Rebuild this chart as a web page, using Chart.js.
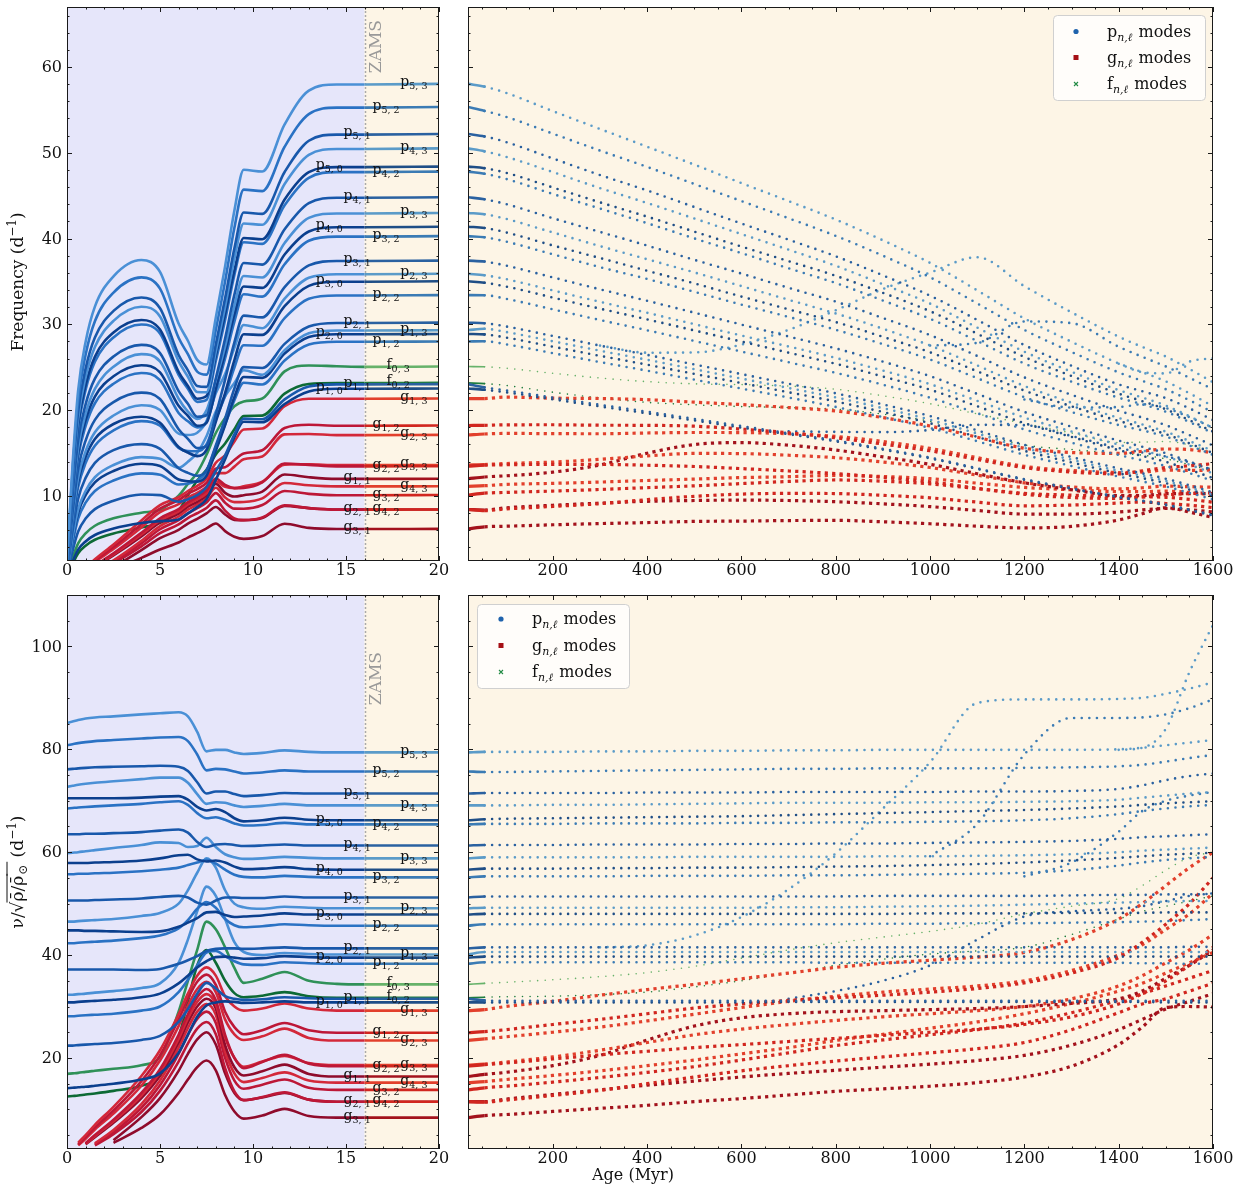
<!DOCTYPE html>
<html>
<head>
<meta charset="utf-8">
<title>Oscillation mode frequencies</title>
<script src="https://cdn.jsdelivr.net/npm/chart.js@4.4.1/dist/chart.umd.min.js"></script>
<style>
  html, body { margin: 0; padding: 0; background: #fff; }
  #fig { position: relative; width: 1245px; height: 1186px; overflow: hidden; }
  #fig canvas { position: absolute; }
</style>
</head>
<body>
<div id="fig">
  <canvas id="pmsFreq" width="452" height="590" style="left:0;top:0"></canvas>
  <canvas id="msFreq" width="805" height="590" style="left:440px;top:0"></canvas>
  <canvas id="pmsScaled" width="452" height="596" style="left:0;top:590px"></canvas>
  <canvas id="msScaled" width="805" height="596" style="left:440px;top:590px"></canvas>
</div>
<script>
const SERIF = '"DejaVu Serif", "Liberation Serif", serif';
const PRE_MS_BG = '#e6e6fa';
const MS_BG = '#fdf5e6';
const ZAMS_AGE = 16;

// pre-main-sequence track: age (Myr) and sqrt(mean density / solar)
const PMS_AGE = [0, 0.3, 0.6, 1, 1.5, 2.5, 4, 5, 6, 6.5, 7, 7.5, 8, 8.5, 9, 9.5, 10.5, 11.7, 13, 14.5, 16, 20];
const PMS_SQRT_RHO = [0.028, 0.16, 0.26, 0.325, 0.372, 0.412, 0.432, 0.415, 0.345, 0.325, 0.31, 0.318, 0.385, 0.46, 0.545, 0.607, 0.603, 0.668, 0.72, 0.73, 0.73, 0.731];

// main-sequence track
const MS_AGE = [20, 55, 100, 200, 300, 400, 500, 600, 700, 800, 900, 1000, 1100, 1200, 1300, 1400, 1450, 1500, 1550, 1600];
const MS_SQRT_RHO = [0.731, 0.726, 0.717, 0.690, 0.663, 0.637, 0.610, 0.583, 0.556, 0.529, 0.498, 0.465, 0.425, 0.384, 0.350, 0.318, 0.304, 0.289, 0.270, 0.250];

// scaled frequencies nu / sqrt(rho/rho_sun), d^-1, pre-MS
const p53Pms = [85.1, 85.4, 85.7, 86.0, 86.2, 86.4, 86.8, 87.0, 87.2, 86.4, 83.4, 79.6, 79.9, 79.9, 79.4, 79.1, 79.3, 79.8, 79.5, 79.4, 79.4, 79.4];
const p52Pms = [80.8, 81.0, 81.2, 81.4, 81.6, 81.8, 82.1, 82.3, 82.4, 81.6, 79.0, 75.9, 76.2, 76.1, 75.7, 75.3, 75.5, 75.9, 75.7, 75.7, 75.7, 75.7];
const p51Pms = [76.1, 76.2, 76.3, 76.4, 76.5, 76.6, 76.7, 76.8, 76.6, 75.8, 73.6, 71.4, 71.8, 71.8, 71.3, 70.9, 71.1, 71.5, 71.4, 71.4, 71.4, 71.4];
const p43Pms = [72.7, 72.9, 73.1, 73.3, 73.5, 73.8, 74.2, 74.5, 74.5, 73.5, 71.3, 69.4, 69.7, 69.6, 69.1, 68.8, 69.0, 69.4, 69.1, 69.1, 69.1, 69.1];
const p50Pms = [70.5, 70.5, 70.5, 70.5, 70.5, 70.5, 70.6, 70.8, 70.9, 70.2, 68.8, 68.1, 68.4, 67.8, 66.6, 66.0, 66.2, 66.7, 66.3, 66.2, 66.2, 66.2];
const p42Pms = [68.5, 68.6, 68.7, 68.8, 68.9, 69.1, 69.4, 69.7, 69.9, 69.2, 67.6, 66.6, 66.8, 66.3, 65.6, 65.2, 65.3, 65.7, 65.4, 65.4, 65.4, 65.4];
const p41Pms = [63.5, 63.5, 63.5, 63.6, 63.6, 63.7, 63.9, 64.2, 64.4, 63.8, 62.0, 61.0, 61.5, 61.6, 61.4, 61.2, 61.3, 61.5, 61.3, 61.3, 61.3, 61.3];
const p33Pms = [59.8, 59.9, 60.0, 60.2, 60.4, 60.8, 61.4, 61.9, 61.8, 61.0, 61.2, 62.8, 61.0, 59.6, 59.0, 58.7, 58.8, 59.1, 58.9, 58.8, 58.8, 58.8];
const p40Pms = [57.9, 57.9, 57.9, 57.9, 58.0, 58.1, 58.4, 58.8, 59.4, 59.5, 58.6, 58.2, 58.4, 58.0, 57.2, 56.7, 56.8, 57.1, 56.7, 56.6, 56.6, 56.6];
const p32Pms = [55.7, 55.7, 55.8, 55.8, 55.9, 56.0, 56.3, 56.6, 57.0, 57.5, 58.0, 58.5, 57.8, 56.6, 55.6, 55.2, 55.1, 55.4, 55.2, 55.1, 55.1, 55.1];
const p31Pms = [50.6, 50.6, 50.6, 50.6, 50.7, 50.8, 51.0, 51.3, 51.5, 51.2, 50.2, 49.8, 50.6, 51.2, 51.2, 51.1, 51.1, 51.4, 51.2, 51.2, 51.2, 51.2];
const p23Pms = [46.5, 46.5, 46.6, 46.7, 46.8, 47.0, 47.6, 48.2, 50.0, 52.6, 56.0, 58.8, 57.0, 52.6, 50.0, 49.3, 49.0, 49.4, 49.2, 49.1, 49.1, 49.1];
const p30Pms = [44.8, 44.8, 44.8, 44.7, 44.7, 44.6, 44.5, 44.6, 45.5, 46.3, 47.2, 48.3, 48.4, 47.8, 47.4, 47.5, 47.7, 48.1, 47.9, 47.9, 47.9, 47.9];
const p22Pms = [42.3, 42.3, 42.4, 42.5, 42.6, 42.8, 43.3, 43.8, 45.2, 46.8, 49.0, 50.3, 49.2, 47.0, 45.8, 45.4, 45.6, 46.0, 45.8, 45.7, 45.7, 45.7];
const p21Pms = [37.2, 37.2, 37.2, 37.2, 37.2, 37.2, 37.1, 37.3, 38.3, 39.0, 39.8, 40.8, 41.2, 41.3, 41.3, 41.2, 41.3, 41.5, 41.3, 41.3, 41.3, 41.3];
const p13Pms = [32.3, 32.3, 32.4, 32.5, 32.7, 33.0, 33.6, 34.5, 38.5, 43.0, 48.5, 53.3, 51.5, 47.0, 42.5, 40.6, 40.0, 40.4, 40.2, 40.1, 40.1, 40.1];
const p20Pms = [30.8, 30.8, 30.9, 31.0, 31.1, 31.3, 31.8, 32.5, 34.5, 36.0, 37.6, 38.8, 39.6, 39.7, 39.5, 39.3, 39.4, 39.8, 39.6, 39.5, 39.5, 39.5];
const p12Pms = [28.1, 28.1, 28.2, 28.3, 28.4, 28.6, 29.2, 30.0, 32.8, 35.2, 38.0, 40.5, 40.8, 39.8, 38.8, 38.2, 38.1, 38.6, 38.4, 38.3, 38.3, 38.3];
const p11Pms = [22.4, 22.4, 22.5, 22.6, 22.7, 22.9, 23.5, 24.3, 27.0, 29.5, 32.5, 34.6, 33.5, 32.0, 31.5, 31.3, 31.4, 31.8, 31.6, 31.5, 31.5, 31.5];
const p10Pms = [14.1, 14.2, 14.3, 14.4, 14.6, 15.0, 15.8, 17.0, 21.0, 24.5, 28.0, 30.2, 30.8, 31.0, 30.9, 30.7, 30.8, 31.0, 30.8, 30.8, 30.8, 30.8];
const g13Pms = [null, null, 3.5, 5.0, 7.0, 10.5, 16.5, 21.5, 28.5, 32.5, 36.0, 37.6, 36.0, 32.0, 30.0, 29.2, 29.6, 30.6, 29.6, 29.2, 29.2, 29.2];
const g12Pms = [null, null, 3.2, 4.6, 6.5, 9.8, 15.5, 20.5, 27.5, 31.5, 34.8, 36.2, 34.2, 29.0, 26.0, 24.6, 25.4, 26.8, 25.4, 24.9, 24.9, 24.9];
const g23Pms = [null, null, 3.0, 4.3, 6.1, 9.2, 14.6, 19.5, 26.2, 30.2, 33.4, 34.8, 32.8, 27.5, 24.6, 23.5, 24.2, 25.7, 23.9, 23.4, 23.4, 23.4];
const g22Pms = [null, null, null, 3.4, 5.0, 8.0, 13.2, 17.8, 24.5, 28.5, 31.8, 33.4, 31.2, 24.5, 20.0, 18.0, 19.2, 20.6, 18.9, 18.4, 18.4, 18.4];
const g33Pms = [null, null, null, 3.3, 4.8, 7.7, 12.7, 17.2, 23.7, 27.7, 30.9, 32.4, 30.4, 24.0, 20.0, 18.3, 19.3, 20.4, 19.0, 18.6, 18.6, 18.6];
const g11Pms = [null, null, null, 3.2, 4.6, 7.4, 12.2, 16.6, 23.0, 26.9, 30.0, 31.5, 29.6, 22.5, 18.2, 16.6, 17.4, 18.7, 16.9, 16.4, 16.4, 16.4];
const g43Pms = [null, null, null, null, 3.4, 6.0, 11.0, 15.6, 22.0, 25.8, 29.0, 30.5, 28.4, 21.3, 17.0, 15.3, 16.1, 17.2, 15.6, 15.2, 15.2, 15.2];
const g32Pms = [null, null, null, null, 3.2, 5.6, 10.3, 14.7, 20.8, 24.5, 27.6, 29.0, 26.8, 20.0, 15.6, 14.0, 14.8, 15.8, 14.2, 13.8, 13.8, 13.8];
const g42Pms = [null, null, null, null, 3.0, 5.2, 9.5, 13.6, 19.3, 22.8, 25.7, 27.0, 24.6, 18.0, 13.5, 11.8, 12.4, 13.3, 11.9, 11.5, 11.5, 11.5];
const g21Pms = [null, null, null, null, null, 4.0, 8.5, 12.2, 17.5, 20.8, 23.6, 25.0, 22.6, 17.0, 13.2, 11.8, 12.3, 13.2, 11.9, 11.5, 11.5, 11.5];
const g31Pms = [null, null, null, null, null, 3.5, 6.4, 9.0, 13.2, 15.8, 18.2, 19.5, 17.6, 12.8, 9.6, 8.2, 8.8, 10.1, 8.7, 8.4, 8.4, 8.4];
const f03Pms = [16.9, 17.0, 17.1, 17.3, 17.5, 17.9, 18.6, 20.2, 29.0, 35.0, 41.0, 46.5, 45.0, 41.5, 37.5, 34.6, 35.4, 36.7, 35.0, 34.4, 34.3, 34.3];
const f02Pms = [12.5, 12.6, 12.7, 12.9, 13.1, 13.6, 14.6, 16.5, 24.0, 31.0, 38.0, 41.0, 38.5, 35.0, 32.6, 31.8, 32.1, 32.8, 32.0, 31.7, 31.7, 31.7];

// scaled frequencies on the main sequence
const p53Ms = [79.4, 79.5, 79.5, 79.5, 79.6, 79.6, 79.7, 79.7, 79.8, 79.8, 79.9, 79.9, 79.9, 79.9, 79.9, 80.0, 80.3, 80.8, 81.3, 81.8];
const p52Ms = [75.7, 75.6, 75.6, 75.7, 75.8, 75.9, 76.0, 76.1, 76.2, 76.2, 76.3, 76.3, 76.3, 76.4, 76.5, 76.7, 77.0, 77.6, 78.3, 78.9];
const p51Ms = [71.4, 71.5, 71.5, 71.5, 71.5, 71.6, 71.6, 71.6, 71.7, 71.7, 71.7, 71.7, 71.8, 71.8, 71.9, 72.3, 73.0, 74.0, 74.8, 75.3];
const p43Ms = [69.1, 69.1, 69.1, 69.2, 69.2, 69.3, 69.4, 69.5, 69.6, 69.6, 69.6, 69.7, 69.7, 69.8, 69.9, 70.2, 70.6, 71.0, 71.4, 71.7];
const p50Ms = [66.2, 66.4, 66.5, 66.6, 66.7, 66.8, 66.9, 67.0, 67.2, 67.4, 67.6, 67.8, 68.0, 68.2, 68.5, 68.9, 69.2, 69.5, 69.7, 69.9];
const p42Ms = [65.4, 65.5, 65.5, 65.5, 65.6, 65.6, 65.6, 65.7, 65.7, 65.8, 65.8, 65.9, 66.0, 66.2, 66.6, 67.4, 68.0, 68.5, 68.9, 69.2];
const p41Ms = [61.3, 61.4, 61.4, 61.4, 61.5, 61.5, 61.5, 61.6, 61.6, 61.7, 61.7, 61.8, 61.9, 62.0, 62.2, 62.6, 62.9, 63.1, 63.3, 63.5];
const p33Ms = [58.8, 59.0, 59.0, 59.0, 59.0, 59.0, 59.1, 59.1, 59.1, 59.1, 59.2, 59.2, 59.3, 59.4, 59.6, 60.0, 60.3, 60.5, 60.7, 60.9];
const p40Ms = [56.6, 56.8, 56.8, 56.8, 56.9, 56.9, 57.0, 57.0, 57.1, 57.2, 57.3, 57.5, 57.7, 58.0, 58.4, 58.9, 59.2, 59.5, 59.7, 59.9];
const p32Ms = [55.1, 55.3, 55.3, 55.3, 55.3, 55.4, 55.4, 55.4, 55.5, 55.5, 55.6, 55.7, 55.8, 56.0, 56.5, 57.4, 58.0, 58.5, 58.8, 59.1];
const p31Ms = [51.2, 51.4, 51.4, 51.4, 51.4, 51.4, 51.4, 51.4, 51.4, 51.4, 51.5, 51.5, 51.5, 51.5, 51.6, 51.7, 51.7, 51.8, 51.8, 51.9];
const p23Ms = [49.1, 49.2, 49.2, 49.2, 49.2, 49.2, 49.2, 49.2, 49.3, 49.3, 49.4, 49.5, 49.6, 49.8, 50.0, 50.2, 50.3, 50.4, 50.5, 50.5];
const p30Ms = [47.9, 48.0, 48.0, 48.0, 48.0, 48.0, 48.0, 48.0, 48.0, 48.0, 48.0, 48.1, 48.1, 48.1, 48.2, 48.2, 48.2, 48.3, 48.3, 48.3];
const p22Ms = [45.7, 46.0, 46.0, 46.0, 46.0, 46.0, 46.0, 46.0, 46.0, 46.0, 46.1, 46.1, 46.2, 46.2, 46.3, 46.4, 46.5, 46.6, 46.8, 47.0];
const p21Ms = [41.3, 41.5, 41.5, 41.5, 41.5, 41.5, 41.5, 41.5, 41.5, 41.5, 41.5, 41.5, 41.5, 41.5, 41.5, 41.5, 41.5, 41.5, 41.6, 41.6];
const p13Ms = [40.1, 40.6, 40.6, 40.6, 40.6, 40.6, 40.6, 40.6, 40.6, 40.6, 40.6, 40.6, 40.6, 40.6, 40.6, 40.6, 40.6, 40.6, 40.6, 40.6];
const p20Ms = [39.5, 39.7, 39.7, 39.7, 39.7, 39.7, 39.7, 39.7, 39.7, 39.7, 39.7, 39.7, 39.7, 39.7, 39.7, 39.7, 39.7, 39.7, 39.7, 39.7];
const p12Ms = [38.3, 38.6, 38.6, 38.6, 38.6, 38.6, 38.6, 38.6, 38.6, 38.5, 38.5, 38.5, 38.5, 38.5, 38.5, 38.5, 38.4, 38.4, 38.3, 38.3];
const p11Ms = [31.5, 31.2, 31.1, 31.1, 31.1, 31.1, 31.1, 31.1, 31.1, 31.1, 31.1, 31.1, 31.1, 31.1, 31.1, 31.1, 31.1, 31.1, 31.1, 31.1];
const p10Ms = [30.8, 30.8, 30.8, 30.8, 30.8, 30.8, 30.8, 30.8, 30.9, 30.9, 30.9, 30.9, 30.9, 30.9, 30.9, 30.9, 30.9, 30.8, 30.8, 30.8];
const g13Ms = [29.2, 29.4, 30.0, 31.0, 32.2, 33.3, 34.3, 35.4, 36.5, 37.6, 38.4, 39.0, 39.6, 40.5, 43.0, 47.0, 50.0, 53.5, 57.0, 60.0];
const g12Ms = [24.9, 25.1, 25.5, 26.5, 27.5, 28.6, 29.7, 30.5, 31.2, 31.7, 32.2, 32.8, 33.5, 34.6, 36.5, 39.5, 42.5, 46.0, 50.0, 55.0];
const g23Ms = [23.4, 23.7, 24.1, 25.0, 26.0, 27.2, 28.5, 29.8, 31.0, 32.0, 32.8, 33.4, 34.0, 35.0, 37.0, 40.0, 42.0, 45.0, 48.0, 52.0];
const g22Ms = [18.4, 18.7, 19.0, 19.8, 20.6, 21.3, 22.0, 22.6, 23.2, 23.8, 24.4, 25.0, 25.6, 26.5, 28.0, 30.5, 32.5, 35.0, 38.0, 41.5];
const g33Ms = [18.6, 18.8, 19.2, 20.2, 21.5, 23.0, 24.5, 25.6, 26.5, 27.3, 28.0, 28.6, 29.2, 30.0, 31.5, 34.0, 36.0, 38.5, 41.0, 44.0];
const g11Ms = [16.4, 16.8, 17.2, 18.5, 20.5, 23.5, 26.2, 27.8, 28.6, 29.0, 29.2, 29.4, 29.6, 30.0, 30.6, 31.5, 33.0, 35.5, 38.0, 41.0];
const g43Ms = [15.2, 15.4, 15.8, 16.6, 17.5, 18.5, 19.6, 20.8, 22.0, 23.4, 24.6, 25.8, 27.0, 28.6, 30.6, 33.0, 34.5, 36.5, 38.5, 40.5];
const g32Ms = [13.8, 14.2, 14.5, 15.3, 16.2, 17.2, 18.3, 19.6, 21.0, 22.4, 23.5, 24.5, 25.5, 26.8, 28.8, 31.2, 32.5, 34.0, 35.5, 37.0];
const g42Ms = [11.5, 11.4, 11.8, 12.7, 13.7, 15.0, 16.3, 17.5, 18.5, 19.4, 20.2, 21.0, 21.8, 23.0, 25.5, 28.8, 30.5, 31.5, 33.0, 34.5];
const g21Ms = [11.5, 11.5, 12.0, 12.9, 13.8, 14.7, 15.5, 16.3, 17.0, 17.6, 18.2, 18.8, 19.5, 20.5, 22.5, 25.5, 27.5, 29.5, 31.0, 32.5];
const g31Ms = [8.4, 8.8, 9.0, 9.6, 10.2, 10.8, 11.5, 12.1, 12.8, 13.5, 14.0, 14.5, 15.2, 16.3, 18.4, 22.6, 26.0, 29.8, 30.0, 29.9];
const f03Ms = [34.3, 34.5, 34.7, 35.2, 35.8, 36.6, 37.8, 39.4, 41.0, 42.4, 43.5, 44.6, 46.0, 48.0, 49.5, 51.0, 53.5, 56.5, 59.0, 60.0];
const f02Ms = [31.7, 31.8, 31.9, 32.0, 32.3, 32.8, 33.8, 35.0, 36.5, 38.0, 39.2, 40.2, 40.8, 41.5, 44.0, 47.0, 48.5, 49.5, 50.5, 51.5];

// mixed-character branches that cut across the p-mode ladder
const branchA = [null, null, null, null, 41.5, 41.9, 43.8, 47.4, 52.8, 59.8, 68.5, 77.5, 89.0, 89.7, 89.7, 89.8, 90.0, 90.8, 91.8, 93.0];
const branchB = [null, null, null, null, null, null, null, null, null, null, null, 59.2, 65.5, 79.0, 86.1, 86.1, 86.2, 86.8, 88.0, 89.7];
const branchC = [null, null, null, null, null, null, null, null, null, null, null, null, null, null, null, 79.9, 80.3, 84.0, 95.0, 104.2];
const branchD = [null, null, null, null, null, null, null, null, 31.5, 33.0, 35.0, 38.0, 43.0, 47.5, 48.5, 49.0, 49.5, 50.5, 51.5, 52.0];
const branchE = [null, null, null, null, null, null, null, null, null, null, null, null, null, 55.3, 58.0, 64.0, 68.0, 70.0, 71.0, 71.7];

const MODES = [
  ['p', 5, 3, p53Pms, p53Ms], ['p', 5, 2, p52Pms, p52Ms], ['p', 5, 1, p51Pms, p51Ms], ['p', 4, 3, p43Pms, p43Ms],
  ['p', 5, 0, p50Pms, p50Ms], ['p', 4, 2, p42Pms, p42Ms], ['p', 4, 1, p41Pms, p41Ms], ['p', 3, 3, p33Pms, p33Ms],
  ['p', 4, 0, p40Pms, p40Ms], ['p', 3, 2, p32Pms, p32Ms], ['p', 3, 1, p31Pms, p31Ms], ['p', 2, 3, p23Pms, p23Ms],
  ['p', 3, 0, p30Pms, p30Ms], ['p', 2, 2, p22Pms, p22Ms], ['p', 2, 1, p21Pms, p21Ms], ['p', 1, 3, p13Pms, p13Ms],
  ['p', 2, 0, p20Pms, p20Ms], ['p', 1, 2, p12Pms, p12Ms], ['p', 1, 1, p11Pms, p11Ms], ['p', 1, 0, p10Pms, p10Ms],
  ['g', 1, 3, g13Pms, g13Ms], ['g', 1, 2, g12Pms, g12Ms], ['g', 2, 3, g23Pms, g23Ms], ['g', 2, 2, g22Pms, g22Ms],
  ['g', 3, 3, g33Pms, g33Ms], ['g', 1, 1, g11Pms, g11Ms], ['g', 4, 3, g43Pms, g43Ms], ['g', 3, 2, g32Pms, g32Ms],
  ['g', 4, 2, g42Pms, g42Ms], ['g', 2, 1, g21Pms, g21Ms], ['g', 3, 1, g31Pms, g31Ms],
  ['f', 0, 3, f03Pms, f03Ms], ['f', 0, 2, f02Pms, f02Ms]
];
const BRANCHES = [[branchA, 3], [branchB, 2], [branchC, 3], [branchD, 1], [branchE, 2]];

// label x-position (Myr) per degree, in the left panels
const LABEL_AGE = [14.1, 15.6, 17.15, 18.65];
const F_LABEL_AGE = 17.8;

const LINE_COLORS = {
  p: ['#0b3f8e', '#1858ab', '#2a72c4', '#4a90d6'],
  g: [null, '#8f0b2c', '#bd1737', '#d3283a'],
  f: [null, null, '#0d6a35', '#2f9158']
};
const DOT_COLORS = {
  p: ['#1f4e86', '#2a61a0', '#3b7bb4', '#5b9bc8'],
  g: [null, '#a3121c', '#d1261f', '#e2402c'],
  f: [null, null, '#1f7d3e', '#67b26a']
};
const MARK = {
  p: { borderWidth: 2.6, borderDash: [0, 7.6], borderCapStyle: 'round' },
  g: { borderWidth: 3.2, borderDash: [3.2, 4.2], borderCapStyle: 'butt' },
  f: { borderWidth: 1.6, borderDash: [0, 7.6], borderCapStyle: 'round' }
};

function series(ages, vals, factor) {
  return ages.map((a, i) => ({ x: a, y: vals[i] == null ? null : (factor ? vals[i] * factor[i] : vals[i]) }));
}

function pmsDatasets(top) {
  return MODES.map(([kind, n, l, pms]) => ({
    data: series(PMS_AGE, pms, top ? PMS_SQRT_RHO : null),
    borderColor: LINE_COLORS[kind][l],
    borderWidth: 2.6,
    pointRadius: 0,
    cubicInterpolationMode: 'monotone',
    spanGaps: false,
    segment: { borderColor: c => (c.p0.parsed.x >= ZAMS_AGE - 1e-6 ? DOT_COLORS[kind][l] : undefined) }
  }));
}

function msDataset(kind, l, vals, top) {
  return Object.assign({
    data: series(MS_AGE, vals, top ? MS_SQRT_RHO : null),
    borderColor: DOT_COLORS[kind][l],
    pointRadius: 0,
    cubicInterpolationMode: 'monotone',
    spanGaps: false,
    segment: { borderDash: c => (c.p0.parsed.x < 50 ? [] : undefined) }
  }, MARK[kind]);
}

function msDatasets(top) {
  const sets = MODES.map(([kind, n, l, pms, ms]) => msDataset(kind, l, ms, top));
  BRANCHES.forEach(([vals, l]) => sets.push(msDataset('p', l, vals, top)));
  return sets;
}

// ---- drawing helpers ----
function fillBackground(chart, split) {
  const { ctx, chartArea: a, scales: { x } } = chart;
  ctx.save();
  if (split) {
    const zx = x.getPixelForValue(ZAMS_AGE);
    ctx.fillStyle = PRE_MS_BG;
    ctx.fillRect(a.left, a.top, zx - a.left, a.height);
    ctx.fillStyle = MS_BG;
    ctx.fillRect(zx, a.top, a.right - zx, a.height);
  } else {
    ctx.fillStyle = MS_BG;
    ctx.fillRect(a.left, a.top, a.width, a.height);
  }
  ctx.restore();
}

function drawZams(chart, textTop) {
  const { ctx, chartArea: a, scales: { x } } = chart;
  const zx = Math.round(x.getPixelForValue(ZAMS_AGE)) + 0.5;
  ctx.save();
  ctx.strokeStyle = '#aaaaaa';
  ctx.lineWidth = 1.5;
  ctx.setLineDash([2, 2]);
  ctx.beginPath();
  ctx.moveTo(zx, a.top);
  ctx.lineTo(zx, a.bottom);
  ctx.stroke();
  ctx.setLineDash([]);
  ctx.translate(zx + 15, textTop);
  ctx.rotate(-Math.PI / 2);
  ctx.fillStyle = '#999999';
  ctx.font = '17px ' + SERIF;
  ctx.textAlign = 'right';
  ctx.textBaseline = 'alphabetic';
  ctx.fillText('ZAMS', 0, 0);
  ctx.restore();
}

function steps(lo, hi, step) {
  const out = [];
  for (let k = Math.ceil(lo / step - 1e-9); k * step <= hi + 1e-9; k++) out.push(k * step);
  return out;
}
const isMajor = (v, m) => Math.abs(v / m - Math.round(v / m)) < 1e-6;

function drawAxes(chart, t) {
  const { ctx, chartArea: a, scales: { x, y } } = chart;
  ctx.save();
  ctx.strokeStyle = '#1a1a1a';
  ctx.lineWidth = 1;
  ctx.beginPath();
  steps(x.min, x.max, t.xMinor).forEach(v => {
    const px = Math.round(x.getPixelForValue(v)) + 0.5;
    const len = isMajor(v, t.xMajor) ? 5 : 2.5;
    ctx.moveTo(px, a.bottom); ctx.lineTo(px, a.bottom - len);
    ctx.moveTo(px, a.top); ctx.lineTo(px, a.top + len);
  });
  steps(y.min, y.max, t.yMinor).forEach(v => {
    const py = Math.round(y.getPixelForValue(v)) + 0.5;
    const len = isMajor(v, t.yMajor) ? 5 : 2.5;
    ctx.moveTo(a.left, py); ctx.lineTo(a.left + len, py);
    ctx.moveTo(a.right, py); ctx.lineTo(a.right - len, py);
  });
  ctx.stroke();
  ctx.strokeRect(Math.round(a.left) + 0.5, Math.round(a.top) + 0.5, Math.round(a.width) - 1, Math.round(a.height) - 1);

  ctx.fillStyle = '#111';
  ctx.font = '16px ' + SERIF;
  ctx.textAlign = 'center';
  ctx.textBaseline = 'top';
  steps(x.min, x.max, t.xMajor).forEach(v => {
    ctx.fillText(String(v), x.getPixelForValue(v), a.bottom + 2);
  });
  if (t.yLabels) {
    ctx.textAlign = 'right';
    ctx.textBaseline = 'middle';
    steps(y.min, y.max, t.yMajor).forEach(v => {
      ctx.fillText(String(v), a.left - 5, y.getPixelForValue(v) + 1);
    });
  }
  ctx.restore();
}

function drawModeLabels(chart, top) {
  const { ctx, scales: { x, y } } = chart;
  const last = PMS_AGE.length - 1;
  ctx.save();
  ctx.fillStyle = '#111';
  ctx.textBaseline = 'alphabetic';
  ctx.textAlign = 'left';
  MODES.forEach(([kind, n, l, pms]) => {
    const v = pms[last] * (top ? PMS_SQRT_RHO[last] : 1);
    const age = kind === 'f' ? F_LABEL_AGE : LABEL_AGE[l];
    const px = x.getPixelForValue(age);
    const py = y.getPixelForValue(v);
    const sub = n + ', ' + l;
    ctx.font = '14px ' + SERIF;
    const w1 = ctx.measureText(kind).width;
    ctx.font = '9.5px ' + SERIF;
    const w2 = ctx.measureText(sub).width;
    const sx = px - (w1 + w2) / 2;
    ctx.font = '14px ' + SERIF;
    ctx.fillText(kind, sx, py + 2.5);
    ctx.font = '9.5px ' + SERIF;
    ctx.fillText(sub, sx + w1, py + 5.5);
  });
  ctx.restore();
}

function drawLegend(chart, lg) {
  const { ctx } = chart;
  ctx.save();
  ctx.beginPath();
  ctx.roundRect(lg.x0 + 0.5, lg.y0 + 0.5, lg.x1 - lg.x0, lg.y1 - lg.y0, 4);
  ctx.fillStyle = 'rgba(255,255,255,0.8)';
  ctx.fill();
  ctx.strokeStyle = '#d0d0d0';
  ctx.lineWidth = 1;
  ctx.stroke();
  const rows = [['p', '#1f63ad'], ['g', '#a50f15'], ['f', '#238b45']];
  rows.forEach(([kind, color], i) => {
    const cy = lg.rows[i];
    ctx.fillStyle = color;
    ctx.strokeStyle = color;
    if (kind === 'p') {
      ctx.beginPath(); ctx.arc(lg.mx, cy, 2.6, 0, Math.PI * 2); ctx.fill();
    } else if (kind === 'g') {
      ctx.fillRect(lg.mx - 2.5, cy - 2.5, 5, 5);
    } else {
      ctx.lineWidth = 1.1;
      ctx.beginPath();
      ctx.moveTo(lg.mx - 2, cy - 2); ctx.lineTo(lg.mx + 2, cy + 2);
      ctx.moveTo(lg.mx - 2, cy + 2); ctx.lineTo(lg.mx + 2, cy - 2);
      ctx.stroke();
    }
    ctx.fillStyle = '#111';
    ctx.textAlign = 'left';
    ctx.textBaseline = 'alphabetic';
    let tx = lg.tx;
    ctx.font = '16px ' + SERIF;
    ctx.fillText(kind, tx, cy + 5);
    tx += ctx.measureText(kind).width;
    ctx.font = 'italic 11px ' + SERIF;
    ctx.fillText('n,\u2113', tx, cy + 9);
    tx += ctx.measureText('n,\u2113').width + 1;
    ctx.font = '16px ' + SERIF;
    ctx.fillText(' modes', tx, cy + 5);
  });
  ctx.restore();
}

// draws a list of text runs centred on (cx, cy), rotated by -90 deg when vertical
function drawRuns(ctx, runs, cx, cy, vertical) {
  ctx.save();
  ctx.translate(cx, cy);
  if (vertical) ctx.rotate(-Math.PI / 2);
  ctx.fillStyle = '#111';
  ctx.textBaseline = 'alphabetic';
  ctx.textAlign = 'left';
  let total = 0;
  runs.forEach(r => { ctx.font = r.font; r.w = ctx.measureText(r.t).width + (r.gap || 0); total += r.w; });
  let x0 = -total / 2;
  runs.forEach(r => {
    ctx.font = r.font;
    ctx.fillText(r.t, x0, r.dy || 0);
    if (r.bar) {
      ctx.strokeStyle = '#111';
      ctx.lineWidth = 1;
      ctx.beginPath();
      ctx.moveTo(x0 - 1, r.bar);
      ctx.lineTo(x0 + r.w + 1, r.bar);
      ctx.stroke();
    }
    x0 += r.w;
  });
  ctx.restore();
}

const F17 = '17px ' + SERIF;
const F12 = '12px ' + SERIF;

function makeDecor(cfg) {
  return {
    id: 'decor',
    beforeDatasetsDraw(chart) {
      fillBackground(chart, cfg.split);
      if (cfg.split) drawZams(chart, cfg.zamsTop);
    },
    afterDatasetsDraw(chart) {
      drawAxes(chart, cfg.ticks);
      if (cfg.split) drawModeLabels(chart, cfg.top);
      if (cfg.legend) drawLegend(chart, cfg.legend);
      if (cfg.title) cfg.title(chart.ctx);
    }
  };
}

function makeChart(id, datasets, xr, yr, pad, decor) {
  return new Chart(document.getElementById(id), {
    type: 'line',
    data: { datasets },
    options: {
      responsive: false,
      animation: false,
      events: [],
      layout: { padding: pad },
      scales: {
        x: { type: 'linear', min: xr[0], max: xr[1], display: false },
        y: { type: 'linear', min: yr[0], max: yr[1], display: false }
      },
      plugins: { legend: { display: false }, tooltip: { enabled: false } }
    },
    plugins: [decor]
  });
}

const FREQ_RANGE = [2.4, 67];
const SCALED_RANGE = [2.3, 110];
const PMS_RANGE = [0, 20];
const MS_RANGE = [20, 1600];

makeChart('pmsFreq', pmsDatasets(true), PMS_RANGE, FREQ_RANGE,
  { left: 67, top: 7, right: 13, bottom: 29 },
  makeDecor({
    split: true, top: true, zamsTop: 20,
    ticks: { xMajor: 5, xMinor: 1, yMajor: 10, yMinor: 2, yLabels: true },
    title: ctx => drawRuns(ctx, [
      { t: 'Frequency (d', font: F17 },
      { t: '\u22121', font: F12, dy: -7 },
      { t: ')', font: F17 }
    ], 23, 282, true)
  }));

makeChart('msFreq', msDatasets(true), MS_RANGE, FREQ_RANGE,
  { left: 28, top: 7, right: 32, bottom: 29 },
  makeDecor({
    split: false,
    ticks: { xMajor: 200, xMinor: 50, yMajor: 10, yMinor: 2, yLabels: false },
    legend: { x0: 613, y0: 15, x1: 765, y1: 100, mx: 636, tx: 667, rows: [31.5, 57.5, 84] }
  }));

makeChart('pmsScaled', pmsDatasets(false), PMS_RANGE, SCALED_RANGE,
  { left: 67, top: 5, right: 13, bottom: 37 },
  makeDecor({
    split: true, top: false, zamsTop: 62,
    ticks: { xMajor: 5, xMinor: 1, yMajor: 20, yMinor: 5, yLabels: true },
    title: ctx => drawRuns(ctx, [
      { t: '\u03bd/\u221a', font: F17 },
      { t: '\u03c1\u0304/\u03c1\u0304', font: F17, bar: -16, gap: 1 },
      { t: '\u2299', font: F12, dy: 4, bar: -16, gap: 2 },
      { t: ' (d', font: F17 },
      { t: '\u22121', font: F12, dy: -7 },
      { t: ')', font: F17 }
    ], 23, 282, true)
  }));

makeChart('msScaled', msDatasets(false), MS_RANGE, SCALED_RANGE,
  { left: 28, top: 5, right: 32, bottom: 37 },
  makeDecor({
    split: false,
    ticks: { xMajor: 200, xMinor: 50, yMajor: 20, yMinor: 5, yLabels: false },
    legend: { x0: 37, y0: 14, x1: 189, y1: 98, mx: 61, tx: 92, rows: [29, 55.5, 82] },
    title: ctx => drawRuns(ctx, [{ t: 'Age (Myr)', font: '16px ' + SERIF }], 193, 590, false)
  }));
</script>
</body>
</html>
